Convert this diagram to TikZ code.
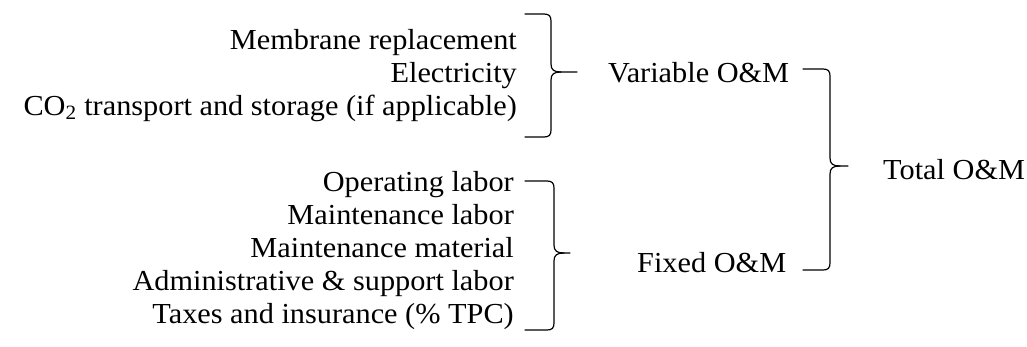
\documentclass[tikz,border=0pt]{standalone}
\usepackage{fontspec}
\setmainfont[FakeStretch=1.045]{Liberation Serif}
\newcommand\bracepath[6]{% x0, xv, ytop, ymid, ybot, xtip
  \draw[brace] (#1,#3) -- ({#2-7},#3) .. controls ({#2-2},#3) and (#2,{#3+2}) .. (#2,{#3+7})
    -- (#2,{#4-8}) .. controls (#2,{#4-2}) and ({#2+3},#4) .. ({#2+10},#4) -- (#6,#4);
  \draw[brace] (#1,#5) -- ({#2-7},#5) .. controls ({#2-2},#5) and (#2,{#5-2}) .. (#2,{#5-7})
    -- (#2,{#4+8}) .. controls (#2,{#4+2}) and ({#2+3},#4) .. ({#2+10},#4);
}
\begin{document}
\begin{tikzpicture}[x=1pt,y=-1pt,
  lbl/.style={inner sep=0pt, font=\fontsize{29}{33}\selectfont},
  brace/.style={line width=1.2pt, line cap=round, line join=round}]
\useasboundingbox (0,0) rectangle (1027,346);
% upper items
\node[lbl, anchor=base east] (mem) at (517,49) {Membrane replacement};
\node[lbl, anchor=base east] (ele) at (517,82) {Electricity};
\node[lbl, anchor=base east] (co2) at (517,115) {CO\textsubscript{2} transport and storage (if applicable)};
% lower items
\node[lbl, anchor=base east] (opl) at (514,191) {Operating labor};
\node[lbl, anchor=base east] (mnl) at (514,224) {Maintenance labor};
\node[lbl, anchor=base east] (mnm) at (514,257) {Maintenance material};
\node[lbl, anchor=base east] (adm) at (514,290) {Administrative \& support labor};
\node[lbl, anchor=base east] (tax) at (514,323) {Taxes and insurance (\% TPC)};
% middle
\node[lbl, anchor=base west] (var) at (608,82) {Variable O\&M};
\node[lbl, anchor=base west] (fix) at (637,272) {Fixed O\&M};
% right
\node[lbl, anchor=base west] (tot) at (883,179) {Total O\&M};
% braces
\bracepath{525}{551}{14}{72}{137}{577}
\bracepath{525}{554}{181}{253}{330}{570}
\bracepath{803}{830}{69}{166}{270}{848}
\end{tikzpicture}
\end{document}
